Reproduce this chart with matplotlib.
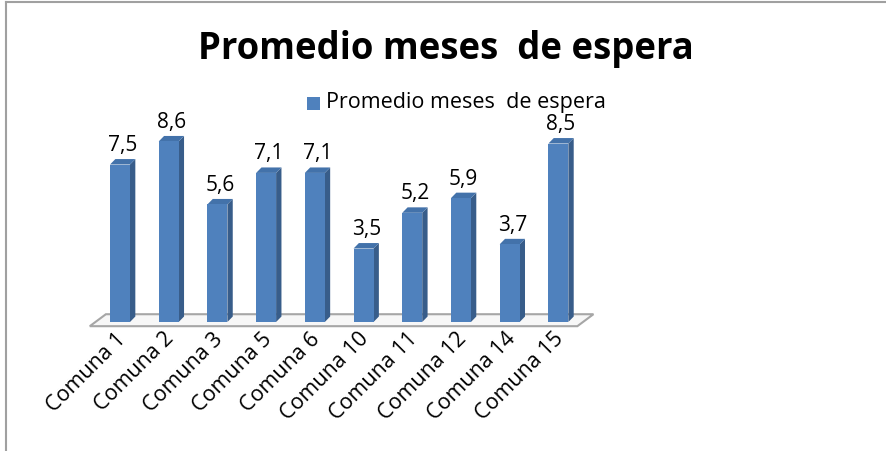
import numpy as np
import matplotlib.pyplot as plt
from matplotlib.patches import Polygon, Rectangle
from matplotlib.lines import Line2D

plt.rcParams['font.family'] = ['Open Sans', 'DejaVu Sans']

comunas = ["Comuna 1", "Comuna 2", "Comuna 3", "Comuna 5", "Comuna 6",
           "Comuna 10", "Comuna 11", "Comuna 12", "Comuna 14", "Comuna 15"]
promedio = [7.5, 8.6, 5.6, 7.1, 7.1, 3.5, 5.2, 5.9, 3.7, 8.5]
serie = "Promedio meses  de espera"

FRONT = "#4f81bd"
SIDE = "#385d8a"
TOP = "#4372aa"


def main():
    fig = plt.figure(figsize=(8.86, 4.52), dpi=100)

    # chart frame (left and top edges only visible)
    fig.add_artist(Line2D([6 / 886, 6 / 886], [0, 1 - 3 / 452], color="#a0a0a0", lw=1.5))
    fig.add_artist(Line2D([6 / 886, 1], [1 - 3 / 452, 1 - 3 / 452], color="#a0a0a0", lw=1.5))

    ax = fig.add_axes([80 / 886, 1 - 340 / 452, 530 / 886, 240 / 452])
    ax.set_xlim(-0.821, 10.06)
    ax.set_ylim(-0.81, 10.62)
    ax.axis("off")

    x = np.arange(len(promedio))
    w = 0.41      # front face width
    dx = 0.11     # depth offset in x
    dy = 0.26     # depth offset in y

    # floor
    x0, x1 = x[0] - 0.62, x[-1] + 0.39
    floor = Polygon([(x0, -0.2), (x1, -0.2), (x1 + 0.33, 0.37), (x0 + 0.33, 0.37)],
                    closed=True, facecolor="#f7f7f7", edgecolor="#a6a6a6", lw=1.5, zorder=1)
    ax.add_patch(floor)

    for xi, v in zip(x, promedio):
        l, r = xi - w / 2, xi + w / 2
        ax.add_patch(Polygon([(r, 0), (r + dx, dy), (r + dx, v + dy), (r, v)],
                             closed=True, facecolor=SIDE, edgecolor="none", zorder=2))
        ax.add_patch(Polygon([(l, v), (r, v), (r + dx, v + dy), (l + dx, v + dy)],
                             closed=True, facecolor=TOP, edgecolor="none", zorder=2))
        ax.bar(xi, v, width=w, color=FRONT, edgecolor="none", zorder=3)
        ax.text(xi + dx / 2, v + 0.45, f"{v:.1f}".replace(".", ","), ha="center",
                va="bottom", fontsize=15, color="black", zorder=4)

    for xi, lab in zip(x, comunas):
        ax.text(xi + 0.05, -0.62, lab, rotation=45, rotation_mode="anchor",
                ha="right", va="center", fontsize=15.5, color="black")

    fig.text(0.503, 1 - 49 / 452, "Promedio meses  de espera", ha="center", va="center",
             fontsize=26.3, fontweight="bold", color="black")

    # legend
    fig.add_artist(Rectangle((307 / 886, 1 - 111 / 452), 13 / 886, 13 / 452,
                             facecolor=FRONT, edgecolor="none"))
    fig.text(326 / 886, 1 - 103 / 452, serie, ha="left", va="center",
             fontsize=15.5, color="black")

    fig.savefig("out.png", dpi=100)
    plt.close(fig)


if __name__ == "__main__":
    main()
